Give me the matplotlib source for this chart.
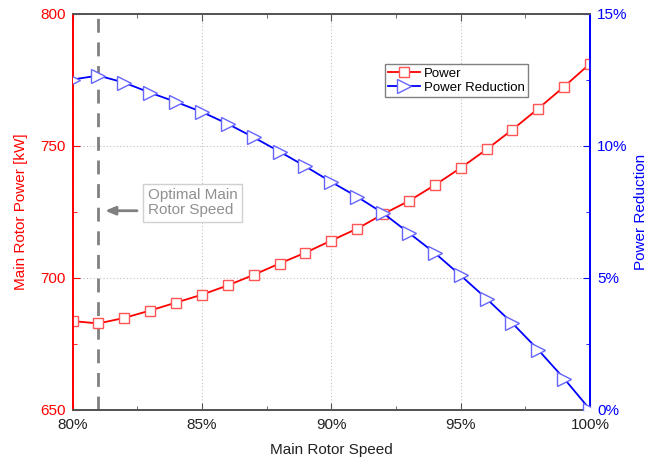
import matplotlib
matplotlib.use("Agg")
import matplotlib.pyplot as plt
from matplotlib.ticker import FixedLocator, FuncFormatter

plt.rcParams['font.family'] = ['Liberation Sans', 'DejaVu Sans']

# main rotor speed [%]
speed = [80, 81, 82, 83, 84, 85, 86, 87, 88, 89, 90,
         91, 92, 93, 94, 95, 96, 97, 98, 99, 100]
# main rotor power [kW]
power = [683.5, 682.6, 684.7, 687.5, 690.5, 693.5, 697.0, 701.0, 705.3, 709.4, 714.0,
         718.5, 724.0, 729.0, 735.0, 741.5, 748.5, 756.0, 764.0, 772.3, 781.0]
# power reduction [%]
reduction = [12.5, 12.65, 12.38, 12.0, 11.65, 11.27, 10.82, 10.31, 9.77, 9.21, 8.62,
             8.06, 7.44, 6.69, 5.93, 5.08, 4.20, 3.27, 2.26, 1.17, 0.0]

optimal_speed = 81

RED = '#ff0000'
BLUE = '#0000ff'
AXGRAY = '#555555'
FS = 11

fig = plt.figure(figsize=(6.51, 4.66), dpi=100)
ax1 = fig.add_axes([0.1114, 0.1212, 0.7949, 0.8498])
ax2 = ax1.twinx()

ax1.axvline(optimal_speed, color='#808080', lw=2, ls=(0, (5, 3.5)), zorder=2)

l1, = ax1.plot(speed, power, color=RED, lw=1.3, marker='s', ms=7.5,
               mfc='white', mec='#ff5555', mew=1.0, label='Power', zorder=3)
l2, = ax2.plot(speed, reduction, color=BLUE, lw=1.3, marker='>', ms=9.5,
               mfc='white', mec='#6666ff', mew=1.0, label='Power Reduction', zorder=3)

ax1.set_xlim(80, 100)
ax1.set_ylim(650, 800)
ax2.set_ylim(0, 15)

ax1.xaxis.set_major_locator(FixedLocator([80, 85, 90, 95, 100]))
ax1.xaxis.set_minor_locator(FixedLocator([82.5, 87.5, 92.5, 97.5]))
ax1.yaxis.set_major_locator(FixedLocator([650, 700, 750, 800]))
ax1.yaxis.set_minor_locator(FixedLocator([675, 725, 775]))
ax2.yaxis.set_major_locator(FixedLocator([0, 5, 10, 15]))
ax2.yaxis.set_minor_locator(FixedLocator([2.5, 7.5, 12.5]))

pct = FuncFormatter(lambda v, p: '%d%%' % round(v))
ax1.xaxis.set_major_formatter(pct)
ax2.yaxis.set_major_formatter(pct)

ax1.grid(True, which='major', ls=(0, (1, 2)), color='#c0c0c0', lw=0.8)
ax1.set_axisbelow(True)

ax1.tick_params(axis='x', which='both', direction='in', top=True, colors=AXGRAY,
                labelcolor='#222222', labelsize=FS, pad=6)
ax1.tick_params(axis='x', which='major', length=5)
ax1.tick_params(axis='x', which='minor', length=3)
ax1.tick_params(axis='y', which='both', direction='in', colors=RED,
                labelsize=FS, pad=5)
ax1.tick_params(axis='y', which='major', length=5)
ax1.tick_params(axis='y', which='minor', length=3)
ax2.tick_params(axis='y', which='both', direction='in', colors=BLUE,
                labelsize=FS, pad=5)
ax2.tick_params(axis='y', which='major', length=5)
ax2.tick_params(axis='y', which='minor', length=3)

for ax in (ax1, ax2):
    ax.spines['left'].set_color(RED)
    ax.spines['right'].set_color(BLUE)
    ax.spines['top'].set_color(AXGRAY)
    ax.spines['bottom'].set_color(AXGRAY)
    for s in ax.spines.values():
        s.set_linewidth(1.3)

ax1.set_xlabel('Main Rotor Speed', fontsize=FS, color='#222222', labelpad=8)
ax1.set_ylabel('Main Rotor Power [kW]', fontsize=FS, color=RED, labelpad=9)
ax2.set_ylabel('Power Reduction', fontsize=FS, color=BLUE, labelpad=5)

ax1.annotate('', xy=(81.15, 725.3), xytext=(82.6, 725.3),
             arrowprops=dict(arrowstyle='-|>,head_length=0.6,head_width=0.25',
                             color='#808080', lw=2))
ax1.text(82.9, 728.3, 'Optimal Main\nRotor Speed', fontsize=FS, color='#909090',
         ha='left', va='center', linespacing=1.1,
         bbox=dict(boxstyle='square,pad=0.3', fc='white', ec='#d0d0d0', lw=1))

leg = ax2.legend(handles=[l1, l2], loc='upper left', bbox_to_anchor=(0.604, 0.8725),
                 borderaxespad=0, fontsize=9.5, fancybox=False, framealpha=1,
                 edgecolor='#808080', handlelength=2.4, handletextpad=0.3,
                 borderpad=0.25, labelspacing=0.15)
leg.get_frame().set_linewidth(1.0)

fig.savefig('out.png', dpi=100)
